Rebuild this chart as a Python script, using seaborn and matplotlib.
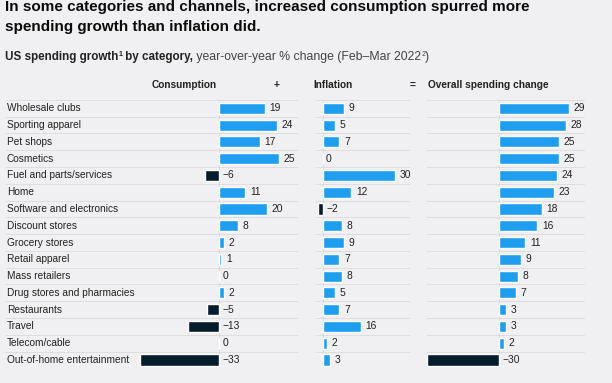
import matplotlib
matplotlib.use("Agg")
import matplotlib.pyplot as plt
import matplotlib.transforms as mtransforms
import pandas as pd
import seaborn as sns

# --- data ---
categories = [
    "Wholesale clubs", "Sporting apparel", "Pet shops", "Cosmetics",
    "Fuel and parts/services", "Home", "Software and electronics",
    "Discount stores", "Grocery stores", "Retail apparel", "Mass retailers",
    "Drug stores and pharmacies", "Restaurants", "Travel", "Telecom/cable",
    "Out-of-home entertainment",
]
consumption = [19, 24, 17, 25, -6, 11, 20, 8, 2, 1, 0, 2, -5, -13, 0, -33]
inflation = [9, 5, 7, 0, 30, 12, -2, 8, 9, 7, 8, 5, 7, 16, 2, 3]
overall = [29, 28, 25, 25, 24, 23, 18, 16, 11, 9, 8, 7, 3, 3, 2, -30]

TITLE = ["In some categories and channels, increased consumption spurred more",
         "spending growth than inflation did."]

# --- style ---
BG = "#f0f0f2"
BLUE = "#1f9ef0"
NAVY = "#051c2c"
GRID = "#dedee1"
TXT = "#222222"
W, H = 612, 383

sns.set_theme(style="white")
plt.rcParams["font.family"] = ["Liberation Sans", "DejaVu Sans"]

fig = plt.figure(figsize=(W / 100, H / 100), dpi=100, facecolor=BG)

ROW_TOP, ROW_BOT = 99.9, 368.4  # pixel y of first/last separator


def px_axes(x0, x1):
    ax = fig.add_axes([x0 / W, 1 - ROW_BOT / H, (x1 - x0) / W, (ROW_BOT - ROW_TOP) / H])
    ax.set_facecolor("none")
    return ax


def draw_panel(ax, values, x0, x1, zero_px):
    scale = 2.4  # px per percentage point
    df = pd.DataFrame({"category": categories, "value": values})
    df["sign"] = ["neg" if v < 0 else "pos" for v in values]
    sns.barplot(data=df, x="value", y="category", hue="sign",
                palette={"pos": BLUE, "neg": NAVY}, dodge=False,
                width=0.66, legend=False, ax=ax, saturation=1)
    ax.set_xlim(-(zero_px - x0) / scale, (x1 - zero_px) / scale)
    ax.set_ylim(len(categories) - 0.5, -0.5)
    ax.hlines([i - 0.5 for i in range(len(categories) + 1)],
              *ax.get_xlim(), color=GRID, lw=0.7, zorder=0)
    ax.axvline(0, color="#d8d8dc", lw=0.6, zorder=0)
    for i, v in enumerate(values):
        lab = f"\u2212{abs(v)}" if v < 0 else str(v)
        if v > 0:
            ax.annotate(lab, (v, i), xytext=(3.2, 0), textcoords="offset points",
                        va="center", ha="left", fontsize=7.4, color=TXT)
        else:
            ax.annotate(lab, (0, i), xytext=(2.4, 0), textcoords="offset points",
                        va="center", ha="left", fontsize=7.4, color=TXT)
    ax.set_xlabel("")
    ax.set_ylabel("")
    ax.set_xticks([])
    ax.set_yticks([])
    sns.despine(ax=ax, left=True, bottom=True)


ax_c = px_axes(5, 298)
draw_panel(ax_c, consumption, 5, 298, 219)
ax_i = px_axes(315, 410)
draw_panel(ax_i, inflation, 315, 410, 322.7)
ax_o = px_axes(426, 585)
draw_panel(ax_o, overall, 426, 585, 499)

# category labels
tr = mtransforms.blended_transform_factory(fig.transFigure, ax_c.transData)
for i, name in enumerate(categories):
    ax_c.text(7 / W, i, name, transform=tr, va="center", ha="left",
              fontsize=7.3, color=TXT)

# column headers
hy = 1 - 85 / H
fig.text(152 / W, hy, "Consumption", va="center", ha="left", fontsize=7.3, weight="bold", color=TXT)
fig.text(277 / W, hy, "+", va="center", ha="center", fontsize=7.3, weight="bold", color=TXT)
fig.text(313 / W, hy, "Inflation", va="center", ha="left", fontsize=7.3, weight="bold", color=TXT)
fig.text(413 / W, hy, "=", va="center", ha="center", fontsize=7.3, weight="bold", color=TXT)
fig.text(428 / W, hy, "Overall spending change", va="center", ha="left", fontsize=7.3, weight="bold", color=TXT)

# title
fig.text(5 / W, 1 - 11 / H, TITLE[0], va="baseline", ha="left", fontsize=11, weight="bold", color="#0b0b0b")
fig.text(5 / W, 1 - 31 / H, TITLE[1], va="baseline", ha="left", fontsize=11, weight="bold", color="#0b0b0b")

# subtitle, built piece by piece so the superscripts sit right
renderer = fig.canvas.get_renderer()
pieces = [
    ("US spending growth", "bold", 8.4, 0, TXT),
    ("1", "bold", 5, 4, TXT),
    (" by category,", "bold", 8.4, 0, TXT),
    (" year-over-year % change (Feb\u2013Mar 2022", "normal", 8.8, 0, "#444444"),
    ("2", "normal", 5, 4, "#444444"),
    (")", "normal", 8.8, 0, "#444444"),
]
x = 5
base = 60
for s, wt, fs, rise, col in pieces:
    t = fig.text(x / W, 1 - (base - rise) / H, s, va="baseline", ha="left",
                 fontsize=fs, weight=wt, color=col)
    x = t.get_window_extent(renderer).x1

fig.savefig("out.png", dpi=100, facecolor=BG)
